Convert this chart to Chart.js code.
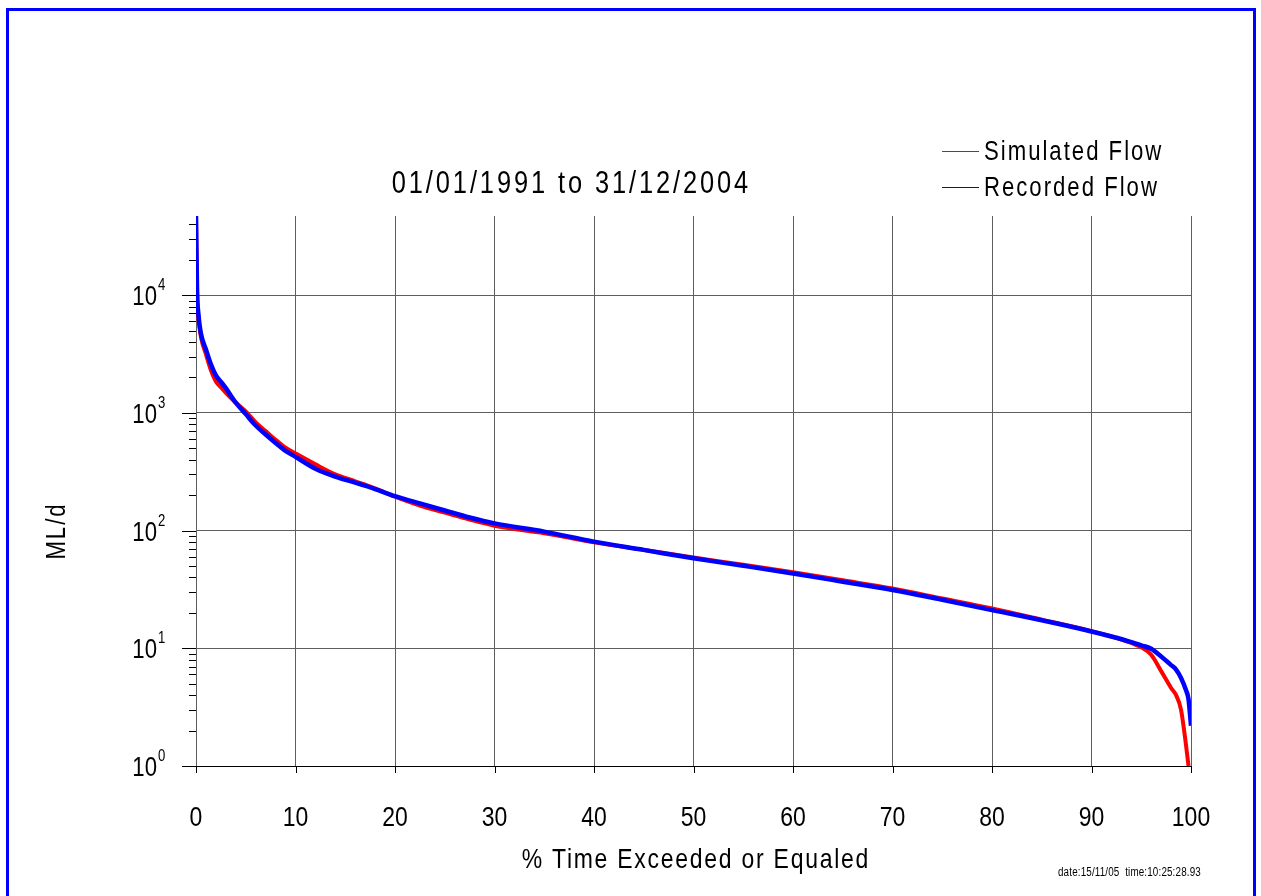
<!DOCTYPE html>
<html>
<head>
<meta charset="utf-8">
<title>Flow Duration Curve</title>
<script src="https://cdn.jsdelivr.net/npm/chart.js@4/dist/chart.umd.min.js"></script>
<style>
    html, body { margin: 0; padding: 0; background: #fff; overflow: hidden; }
    #wrap { position: relative; width: 1261px; height: 896px; }
    #frame { position: absolute; left: 6px; top: 8px; width: 1250px; height: 900px; border: 3px solid #0000ff; box-sizing: border-box; }
    #flowChart { position: absolute; left: 0; top: 0; }
</style>
</head>
<body>
<div id="wrap">
    <canvas id="flowChart" width="1261" height="896"></canvas>
    <div id="frame"></div>
</div>
<script>
// % of time a flow is exceeded or equaled
const pctExceeded = [0, 0.1, 0.25, 0.5, 1, 1.5, 2, 2.5, 3, 4, 5, 6, 7, 8, 9, 10,
    12, 14, 16, 18, 20, 22.5, 25, 27.5, 30, 35, 40, 45, 50, 55, 60, 65, 70, 75, 80, 85, 90,
    92, 94, 95, 96, 97, 98, 98.5, 99, 99.5, 99.75, 100];

// flows in ML/d
const simulatedFlow = [44000, 10500, 6400, 4400, 3150, 2300, 1850, 1650, 1480, 1220, 1030, 830, 700, 590, 505, 452,
    365, 300, 262, 228, 194, 163, 142, 124, 110, 95, 79.5, 68.5, 59, 51.2, 44.2, 37.8, 32.2, 26.5, 21.8, 17.5, 14.0,
    12.6, 11.1, 10.2, 8.8, 6.4, 4.6, 4.0, 3.0, 1.5, 1.0, null];
const recordedFlow = [47000, 11500, 6800, 4700, 3450, 2580, 2080, 1840, 1620, 1220, 975, 780, 655, 555, 475, 423,
    335, 287, 255, 225, 196, 170, 148, 129, 115, 98, 80.5, 68.5, 58.1, 50.2, 43.2, 36.8, 31.3, 25.8, 21.1, 17.3, 13.9,
    12.6, 11.3, 10.6, 9.9, 8.5, 7.2, 6.6, 5.6, 4.4, 3.7, 2.2];

const xTickValues = [0, 10, 20, 30, 40, 50, 60, 70, 80, 90, 100];
const yDecades = [0, 1, 2, 3, 4];
const yMax = 47000;

const titleText = '01/01/1991 to 31/12/2004';
const xTitle = '% Time Exceeded or Equaled';
const yTitle = 'ML/d';
const stampText = 'date:15/11/05  time:10:25:28.93';

const FONT = '"Liberation Sans", Arial, sans-serif';
const NARROW = 0.82; // squeeze glyphs horizontally for a narrow face

function toPoints(values) {
    return pctExceeded.map((p, i) => ({ x: p, y: values[i] }));
}

function isDecade(v) {
    const e = Math.log10(v);
    return Math.abs(e - Math.round(e)) < 1e-9;
}

// condensed text with optional tracking and rotation
function narrowText(ctx, text, x, y, size, opts) {
    const o = Object.assign({ spacing: 0, align: 'left', rotate: 0 }, opts);
    ctx.save();
    ctx.translate(x, y);
    if (o.rotate) ctx.rotate(o.rotate);
    ctx.scale(NARROW, 1);
    ctx.font = size + 'px ' + FONT;
    ctx.letterSpacing = (o.spacing / NARROW) + 'px';
    ctx.textBaseline = 'alphabetic';
    ctx.textAlign = 'left';
    let w = ctx.measureText(text).width - o.spacing / NARROW;
    let dx = 0;
    if (o.align === 'center') dx = -w / 2;
    else if (o.align === 'right') dx = -w;
    ctx.fillText(text, dx, 0);
    ctx.restore();
}

// ticks, tick labels, titles and legend drawn on top of the chart
const decorations = {
    id: 'decorations',
    afterDraw(chart) {
        const ctx = chart.ctx;
        const area = chart.chartArea;
        const xs = chart.scales.x;
        const ys = chart.scales.y;
        ctx.save();

        // tick marks
        ctx.strokeStyle = '#000';
        ctx.lineWidth = 1;
        ctx.beginPath();
        ys.ticks.forEach(t => {
            const py = Math.round(ys.getPixelForValue(t.value)) + 0.5;
            const len = isDecade(t.value) ? 14 : 7;
            ctx.moveTo(area.left - len, py);
            ctx.lineTo(area.left, py);
        });
        xs.ticks.forEach(t => {
            const px = Math.round(xs.getPixelForValue(t.value)) + 0.5;
            ctx.moveTo(px, area.bottom);
            ctx.lineTo(px, area.bottom + 7);
        });
        ctx.stroke();

        ctx.fillStyle = '#000';

        // y labels as 10 with a raised exponent
        yDecades.forEach(e => {
            const py = ys.getPixelForValue(Math.pow(10, e));
            narrowText(ctx, '10', area.left - 39, py + 10, 27, { align: 'right' });
            narrowText(ctx, String(e), area.left - 38, py - 5, 16);
        });

        // x labels
        xTickValues.forEach(v => {
            narrowText(ctx, String(v), xs.getPixelForValue(v), area.bottom + 60, 28, { align: 'center' });
        });

        // chart title
        narrowText(ctx, titleText, 570, 193, 31, { align: 'center', spacing: 2.9 });

        // axis titles
        narrowText(ctx, xTitle, 695, 868, 28, { align: 'center', spacing: 1.75 });
        narrowText(ctx, yTitle, 65, 532, 27, { align: 'center', spacing: 2, rotate: -Math.PI / 2 });

        // legend
        const legendRows = [160, 196];
        chart.data.datasets.forEach((ds, i) => {
            const by = legendRows[i];
            ctx.strokeStyle = ds.borderColor;
            ctx.lineWidth = 1;
            ctx.beginPath();
            ctx.moveTo(942, by - 8.5);
            ctx.lineTo(979, by - 8.5);
            ctx.stroke();
            narrowText(ctx, ds.label, 984, by, 27, { spacing: 2 });
        });

        // print stamp
        narrowText(ctx, stampText, 1058, 876, 12, { spacing: 0.15 });

        ctx.restore();
    }
};

const chart = new Chart(document.getElementById('flowChart').getContext('2d'), {
    type: 'line',
    data: {
        datasets: [{
            label: 'Simulated Flow',
            data: toPoints(simulatedFlow),
            borderColor: '#ff0000',
            borderWidth: 4,
            pointRadius: 0,
            cubicInterpolationMode: 'monotone',
            order: 1
        }, {
            label: 'Recorded Flow',
            data: toPoints(recordedFlow),
            borderColor: '#0000ff',
            borderWidth: 4.5,
            pointRadius: 0,
            cubicInterpolationMode: 'monotone',
            order: 0
        }]
    },
    options: {
        responsive: false,
        animation: false,
        devicePixelRatio: 1,
        layout: { padding: { left: 196, right: 70, top: 216, bottom: 130 } },
        plugins: {
            legend: { display: false },
            title: { display: false },
            tooltip: { enabled: false }
        },
        scales: {
            x: {
                type: 'linear',
                min: 0,
                max: 100,
                afterBuildTicks: scale => {
                    scale.ticks = xTickValues.map(v => ({ value: v }));
                },
                ticks: { display: false },
                grid: { color: '#5e5e5e', lineWidth: 1, drawTicks: false },
                border: { display: true, color: '#000', width: 1 }
            },
            y: {
                type: 'logarithmic',
                min: 1,
                max: yMax,
                afterBuildTicks: scale => {
                    const ticks = [];
                    yDecades.forEach(e => {
                        for (let m = 1; m <= 9; m++) {
                            const v = m * Math.pow(10, e);
                            if (v <= yMax) ticks.push({ value: v, major: m === 1 });
                        }
                    });
                    scale.ticks = ticks;
                },
                ticks: { display: false },
                grid: {
                    color: c => (c.tick && isDecade(c.tick.value) && c.tick.value > 1) ? '#5e5e5e' : 'rgba(0,0,0,0)',
                    lineWidth: 1,
                    drawTicks: false
                },
                border: { display: false }
            }
        }
    },
    plugins: [decorations]
});
</script>
</body>
</html>
